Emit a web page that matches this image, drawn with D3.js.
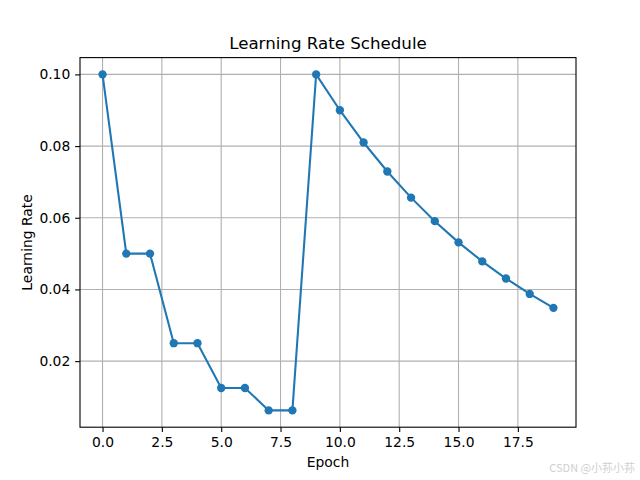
<!DOCTYPE html>
<html><head><meta charset="utf-8">
<script src="https://cdn.jsdelivr.net/npm/d3@7"></script>
<style>body{margin:0;background:#fff}svg{display:block}text{font-family:"DejaVu Sans",sans-serif}</style>
</head><body>
<script>
const epochs = [0,1,2,3,4,5,6,7,8,9,10,11,12,13,14,15,16,17,18,19];
const learningRates = [0.1,0.05,0.05,0.025,0.025,0.0125,0.0125,0.00625,0.00625,0.1,0.09,0.081,0.0729,0.06561,0.059049,0.0531441,0.04782969,0.043046721,0.0387420489,0.0348678440];
const xTicks = [0,2.5,5,7.5,10,12.5,15,17.5];
const yTicks = [0.02,0.04,0.06,0.08,0.10];
const title = "Learning Rate Schedule";
const xLabel = "Epoch";
const yLabel = "Learning Rate";
const watermark = "CSDN @小荪小荪";

const W=640,H=480,L=80,R=576,T=57.6,B=427.2;
const svg=d3.select("body").append("svg").attr("width",W).attr("height",H);
const x=d3.scaleLinear().domain([-0.95,19.95]).range([L,R]);
const y=d3.scaleLinear().domain([0.0015625,0.1046875]).range([B,T]);

// grid
svg.append("g").selectAll("line").data(xTicks).join("line")
 .attr("x1",d=>x(d)).attr("x2",d=>x(d)).attr("y1",T).attr("y2",B)
 .attr("stroke","#b0b0b0").attr("stroke-width",1.1);
svg.append("g").selectAll("line").data(yTicks).join("line")
 .attr("y1",d=>y(d)).attr("y2",d=>y(d)).attr("x1",L).attr("x2",R)
 .attr("stroke","#b0b0b0").attr("stroke-width",1.1);

const xa=svg.append("g").attr("transform",`translate(0,${B})`)
 .call(d3.axisBottom(x).tickValues(xTicks).tickFormat(d3.format(".1f")).tickSize(4.86).tickPadding(4.86));
const ya=svg.append("g").attr("transform",`translate(${L},0)`)
 .call(d3.axisLeft(y).tickValues(yTicks).tickFormat(d3.format(".2f")).tickSize(4.86).tickPadding(4.86));
[xa,ya].forEach(a=>{a.select(".domain").remove();a.selectAll("text").attr("font-size","13.89px").attr("fill","#000").style("font-family","DejaVu Sans");a.selectAll("line").attr("stroke","#000").attr("stroke-width",1.1);});

svg.append("rect").attr("x",L).attr("y",T).attr("width",R-L).attr("height",B-T)
 .attr("fill","none").attr("stroke","#000").attr("stroke-width",1.1);

const pts=epochs.map((e,i)=>[e,learningRates[i]]);
svg.append("path").datum(pts).attr("fill","none").attr("stroke","#1f77b4").attr("stroke-width",2.08)
 .attr("d",d3.line().x(d=>x(d[0])).y(d=>y(d[1])));
svg.append("g").selectAll("circle").data(pts).join("circle")
 .attr("cx",d=>x(d[0])).attr("cy",d=>y(d[1])).attr("r",4.17).attr("fill","#1f77b4");

svg.append("text").attr("x",(L+R)/2).attr("y",T-8.3).attr("text-anchor","middle").attr("font-size","16.67px").text(title);
svg.append("text").attr("x",(L+R)/2).attr("y",467).attr("text-anchor","middle").attr("font-size","13.89px").text(xLabel);
svg.append("text").attr("transform",`translate(32,${(T+B)/2}) rotate(-90)`).attr("text-anchor","middle").attr("font-size","13.89px").text(yLabel);
svg.append("text").attr("x",635).attr("y",472).attr("text-anchor","end").attr("font-size","11px").attr("fill","#cfcfcf")
 .style("font-family","'Noto Sans CJK SC',sans-serif").text(watermark);
</script>
</body></html>
